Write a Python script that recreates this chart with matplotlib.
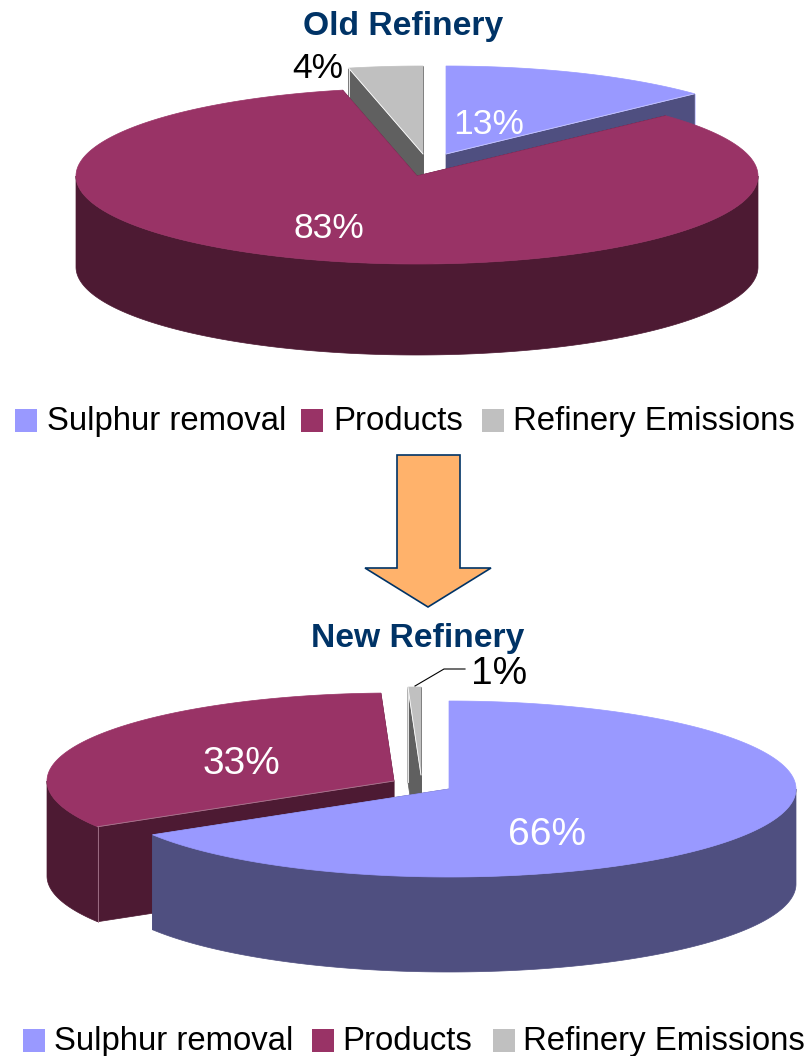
#!/usr/bin/env python3
"""Two exploded 3D-look pie charts, old refinery vs new refinery."""
import numpy as np
import matplotlib
matplotlib.use("Agg")
import matplotlib.pyplot as plt
from matplotlib.patches import Polygon, Rectangle

categories = ["Sulphur removal", "Products", "Refinery Emissions"]
old_values = [13.0, 83.5, 3.5]
new_values = [66.3, 33.1, 0.6]
old_labels = ["13%", "83%", "4%"]
new_labels = ["66%", "33%", "1%"]

TOP_COLORS = ["#9999FF", "#993366", "#C0C0C0"]
WALL_COLORS = ["#4F4F80", "#4D1A33", "#606060"]
EDGE_COLORS = ["#C8C8FF", "#A87A90", "#FFFFFF"]
NAVY = "#003366"
LEGEND_SIZE = 23.7
LABEL_SIZE = 25.5
NEW_LABEL_SIZE = 28
TITLE_SIZE = 24.2

plt.rcParams["font.family"] = ["Liberation Sans", "DejaVu Sans"]

fig = plt.figure(figsize=(8.05, 10.56), dpi=100)
ax = fig.add_axes([0, 0, 1, 1])
ax.set_xlim(0, 805)
ax.set_ylim(1056, 0)
ax.axis("off")


def rim(cx, cy, rx, ry, t1, t2):
    # angle is clockwise from 12 o'clock, on the squashed circle
    t = np.radians(np.linspace(t1, t2, max(int(abs(t2 - t1) * 2), 2)))
    return np.column_stack([cx + rx * np.sin(t), cy - ry * np.cos(t)])


def draw_slice(cx, cy, rx, ry, depth, t1, t2, i):
    down = np.array([0, depth])
    apex = np.array([cx, cy])
    top = rim(cx, cy, rx, ry, t1, t2)
    wall = WALL_COLORS[i]

    # cut faces, lines stay in the same zorder as the patches so later slices cover them
    edges = []
    for p, facing in ((top[0], np.cos(np.radians(t1 - 90))),
                      (top[-1], np.cos(np.radians(t2 + 90)))):
        face = [apex, p, p + down, apex + down]
        ax.add_patch(Polygon(face, closed=True, fc=wall, ec=wall, lw=0.5))
        if facing < -0.01:
            ax.plot([p[0], p[0]], [p[1], p[1] + depth], color=EDGE_COLORS[i], lw=0.6, zorder=1)
            edges.append(p)

    # outer wall, front half only
    a, b = max(t1, 90), min(t2, 270)
    if b > a:
        arc = rim(cx, cy, rx, ry, a, b)
        ax.add_patch(Polygon(np.vstack([arc, arc[::-1] + down]), closed=True, fc=wall, ec=wall, lw=0.5))

    ax.add_patch(Polygon(np.vstack([apex, top]), closed=True, fc=TOP_COLORS[i], ec=TOP_COLORS[i], lw=0.5))
    for p in edges:
        ax.plot([apex[0], p[0]], [apex[1], p[1]], color=EDGE_COLORS[i], lw=0.6, zorder=1)


def draw_pie(values, centers, rx, ry, depth):
    ends = np.cumsum(values) / np.sum(values) * 360
    starts = np.concatenate([[0], ends[:-1]])
    # slices further up the page go first so the nearer ones cover them
    for i in sorted(range(len(values)), key=lambda k: centers[k][1]):
        draw_slice(centers[i][0], centers[i][1], rx, ry, depth, starts[i], ends[i], i)


def draw_legend(squares, texts, y):
    for i, name in enumerate(categories):
        ax.add_patch(Rectangle((squares[i], y - 21), 22, 23, fc=TOP_COLORS[i], ec="none"))
        ax.text(texts[i], y, name, fontsize=LEGEND_SIZE, color="black", ha="left", va="baseline")


def pie_label(x, y, text, color, size=LABEL_SIZE):
    ax.text(x, y, text, fontsize=size, color=color, ha="center", va="center")


# old refinery
ax.text(403.5, 26, "Old Refinery", fontsize=TITLE_SIZE, fontweight="bold", color=NAVY, ha="center", va="center")
draw_pie(old_values, [(446, 154), (417, 176), (423, 154)], 341, 88, 91)
pie_label(489, 124, old_labels[0], "white")
pie_label(329, 228, old_labels[1], "white")
pie_label(318, 69, old_labels[2], "black")
draw_legend([15, 301, 482], [47, 333, 513], 430)

# arrow between the two pies
ax.add_patch(Polygon([(397, 455), (460, 455), (460, 568), (491, 568), (428, 607), (365, 568), (397, 568)],
                     closed=True, fc="#FFB26B", ec=NAVY, lw=1.2))

# new refinery
ax.text(418, 638, "New Refinery", fontsize=TITLE_SIZE, fontweight="bold", color=NAVY, ha="center", va="center")
draw_pie(new_values, [(449, 789), (394, 781), (421, 775)], 347, 88, 95)
pie_label(547, 835, new_labels[0], "white", size=NEW_LABEL_SIZE)
pie_label(241, 764, new_labels[1], "white", size=NEW_LABEL_SIZE)
pie_label(499, 674, new_labels[2], "black", size=NEW_LABEL_SIZE)
ax.plot([415, 444, 465], [686, 669, 669], color="black", lw=0.8)
draw_legend([23, 312, 493], [54, 342, 523], 1050)

fig.savefig("out.png", dpi=100)
